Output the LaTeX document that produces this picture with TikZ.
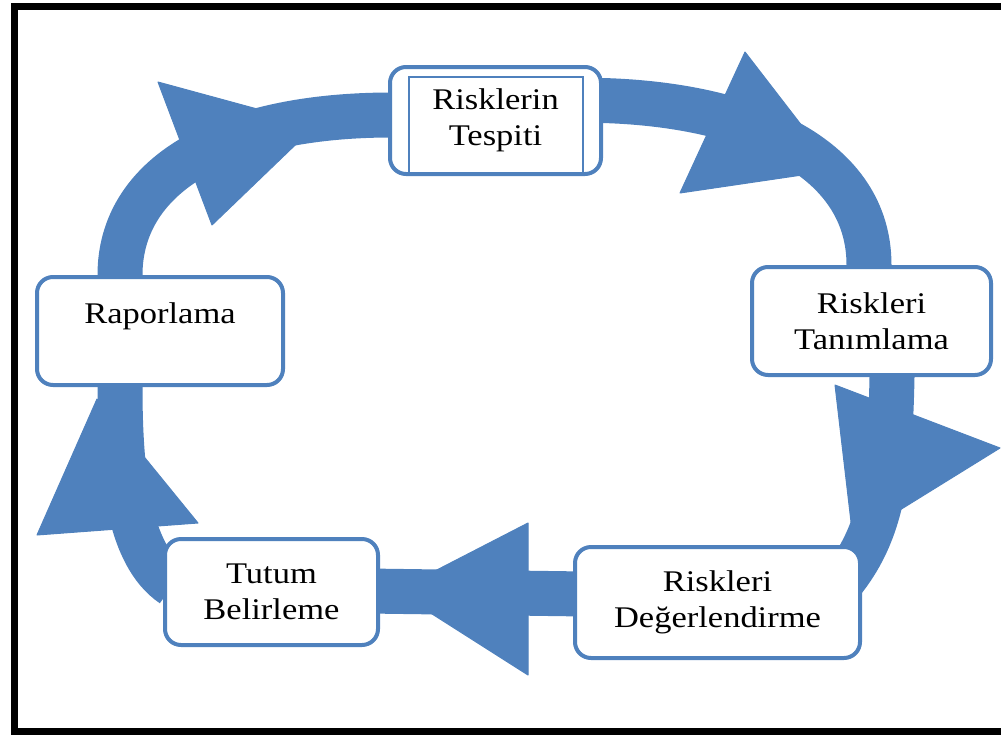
\documentclass[tikz,border=0pt]{standalone}
\usepackage{fontspec}
\setmainfont{Liberation Serif}[FakeStretch=1.15]
\usetikzlibrary{backgrounds,calc}
\definecolor{bandblue}{HTML}{4F81BD}
\begin{document}
\begin{tikzpicture}[x=1pt,y=-1pt,
  box/.style={draw=bandblue, line width=4pt, fill=white, rounded corners=16pt,
    align=center, inner sep=0pt, text=black,
    font=\fontsize{30pt}{36pt}\selectfont},
  band/.style={draw=bandblue, line width=45pt, line cap=butt},
  head/.style={fill=bandblue, draw=bandblue, line width=1pt, line join=round},
  frame/.style={draw=black, line width=7pt, line join=miter}]
\useasboundingbox (0,0) rectangle (1001,734);
\draw[frame] (1012,6) -- (14,6) -- (14,731) -- (1012,731);

\node[box, minimum width=211pt, minimum height=107pt] (tes) at (495.5,120.5) {Risklerin\\Tespiti};
\draw[draw=bandblue, line width=1.5pt] (409,77) rectangle (583,175);
\node[box, minimum width=239pt, minimum height=108pt] (tan) at (871.5,321) {Riskleri\\Tanımlama};
\node[box, minimum width=285pt, minimum height=111pt] (deg) at (717.5,602.5) {Riskleri\\Değerlendirme};
\node[box, minimum width=213pt, minimum height=106pt] (tut) at (271.5,592) {Tutum\\Belirleme};
\node[box, minimum width=246pt, minimum height=108pt] (rap) at (160,331) {Raporlama\\~};

\begin{pgfonlayer}{background}
  % bands
  \draw[band] ([xshift=-40pt,yshift=-12pt]rap.north) -- ([xshift=-40pt]rap.north)
     .. controls +(0,-97) and +(-170,1) .. ([yshift=5.5pt]tes.west) -- ++(15,0);
  \draw[band] ([xshift=-15pt,yshift=20pt]tes.east) -- ([yshift=20pt]tes.east)
     .. controls +(149,4.5) and +(0,-107) .. ([xshift=-2.5pt]tan.north) -- ++(0,15);
  \draw[band] ([xshift=20.5pt,yshift=15pt]tan.south) -- ([xshift=20.5pt]tan.south)
     .. controls +(-2,105) and +(45,-50) .. ([xshift=117.5pt,yshift=12.5pt]deg.center);
  \draw[band] ([xshift=12pt,yshift=8.5pt]deg.west) -- ([xshift=-12pt,yshift=1pt]tut.east);
  \draw[band] ([xshift=10pt,yshift=7pt]tut.west)
     .. controls +(-45,-30) and +(0,85) .. ([xshift=-40pt]rap.south) -- ++(0,-12);
  % arrowheads
  \fill[head] (158,82) -- (212,225) -- (316,125) -- cycle;
  \fill[head] (745,52) -- (680,193) -- (836,170) -- cycle;
  \fill[head] (835,385) -- (1000,448) -- (853,539) -- cycle;
  \fill[head] (528,523) -- (528,675) -- (396,591) -- cycle;
  \fill[head] (37,535) -- (198,523) -- (97,399) -- cycle;
\end{pgfonlayer}
\end{tikzpicture}
\end{document}
